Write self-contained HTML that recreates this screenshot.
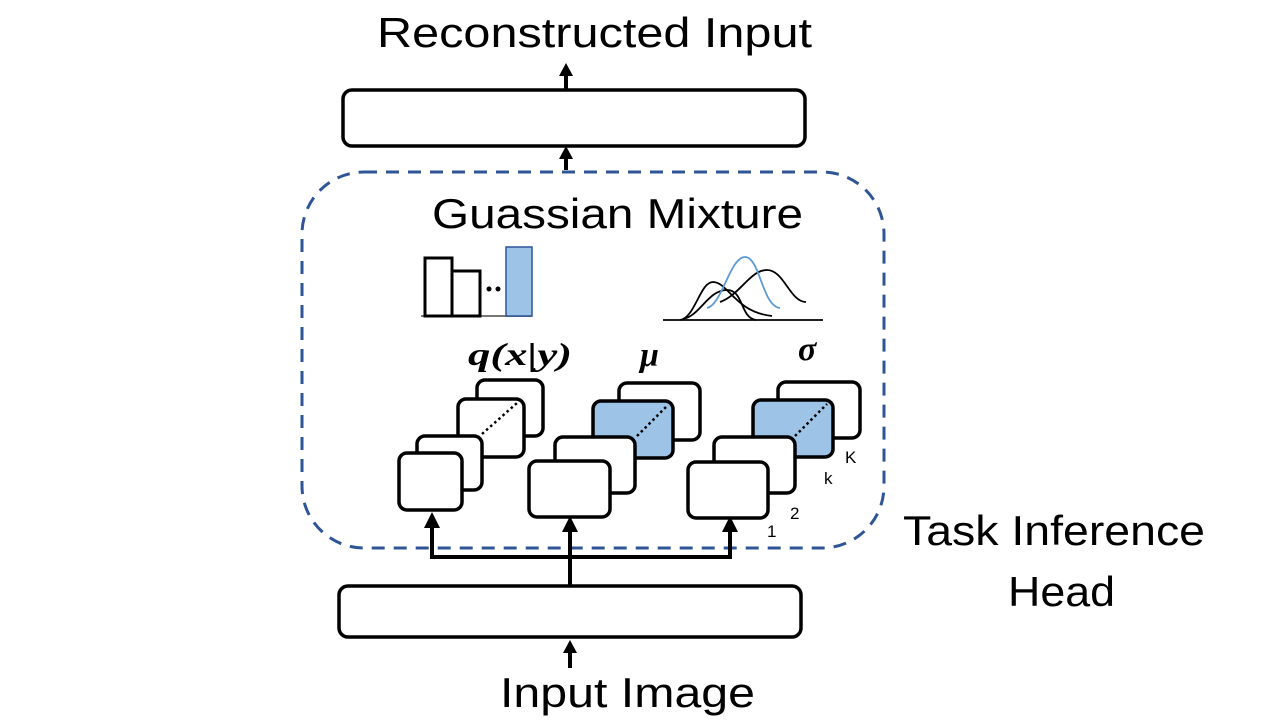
<!DOCTYPE html>
<html><head><meta charset="utf-8"><style>
html,body{margin:0;padding:0;background:#fff;}
svg{display:block;}
.t{font-family:"Liberation Sans",sans-serif;fill:#000;}
.m{font-family:"Liberation Serif",serif;font-weight:bold;font-style:italic;fill:#000;}
</style></head><body>
<svg width="1280" height="720" viewBox="0 0 1280 720" xmlns="http://www.w3.org/2000/svg">
<!-- Titles -->
<text class="t" x="377" y="47" font-size="42" textLength="435" lengthAdjust="spacingAndGlyphs">Reconstructed Input</text>
<text class="t" x="432" y="228" font-size="42" textLength="371" lengthAdjust="spacingAndGlyphs">Guassian Mixture</text>
<text class="t" x="903" y="545" font-size="42" textLength="302" lengthAdjust="spacingAndGlyphs">Task Inference</text>
<text class="t" x="1008" y="606" font-size="42" textLength="107" lengthAdjust="spacingAndGlyphs">Head</text>
<text class="t" x="500" y="707" font-size="42" textLength="255" lengthAdjust="spacingAndGlyphs">Input Image</text>

<!-- boxes -->
<rect x="343" y="90" width="462" height="56" rx="9" fill="#fff" stroke="#000" stroke-width="3.5"/>
<rect x="339" y="586" width="462" height="51" rx="9" fill="#fff" stroke="#000" stroke-width="3.5"/>

<!-- dashed region -->
<rect x="302" y="172" width="582" height="376" rx="62" fill="none" stroke="#2f5597" stroke-width="3" stroke-dasharray="13,9"/>

<!-- arrows -->
<g stroke="#000" stroke-width="4" fill="none">
<line x1="566" y1="90" x2="566" y2="68"/>
<line x1="566" y1="170" x2="566" y2="153"/>
<line x1="570" y1="668" x2="570" y2="646"/>
<polyline points="432,528 432,557 730,557 730,528"/>
<line x1="570" y1="586" x2="570" y2="528"/>
</g>
<g fill="#000">
<polygon points="566,63 559,76 573,76"/>
<polygon points="566,146 559,159 573,159"/>
<polygon points="570,640 563,653 577,653"/>
<polygon points="432,512 424,528 440,528"/>
<polygon points="570,516 562,532 578,532"/>
<polygon points="730,516 722,532 738,532"/>
</g>

<!-- histogram -->
<line x1="421" y1="316" x2="532" y2="316" stroke="#777" stroke-width="2"/>
<rect x="425" y="258" width="27" height="58" fill="#fff" stroke="#000" stroke-width="3"/>
<rect x="452" y="271" width="28" height="45" fill="#fff" stroke="#000" stroke-width="3"/>
<circle cx="489" cy="289" r="2.5" fill="#000"/><circle cx="498" cy="289" r="2.5" fill="#000"/>
<rect x="506" y="247" width="26" height="69" fill="#9dc3e6" stroke="#2f5597" stroke-width="1.5"/>

<!-- gaussians -->
<g fill="none" stroke-width="1.8">
<line x1="663" y1="320" x2="823" y2="320" stroke="#000"/>
<path d="M680,320 C695,318 700,282 713,282 C728,282 735,312 772,316" stroke="#000"/>
<path d="M683,319 C700,316 708,290 727,290 C744,290 740,318 756,320" stroke="#000"/>
<path d="M720,302 C740,295 750,270 767,270 C784,270 790,302 806,302" stroke="#000"/>
<path d="M707,308 C722,305 730,257 745,257 C760,257 762,306 780,308" stroke="#5b9bd5"/>
</g>

<!-- math labels -->
<text class="m" x="468" y="365" font-size="32" textLength="104" lengthAdjust="spacingAndGlyphs">q(x|y)</text>
<text class="m" x="640" y="366" font-size="34">μ</text>
<text class="m" x="798" y="360" font-size="34">σ</text>

<!-- group 1 -->
<g stroke="#000" stroke-width="3.5">
<rect x="477" y="380" width="66" height="56" rx="8" fill="#fff"/>
<rect x="458" y="399" width="66" height="58" rx="8" fill="#fff"/>
<line x1="482" y1="434" x2="517" y2="403" stroke-width="2.5" stroke-dasharray="2.5,3"/>
<rect x="417" y="436" width="65" height="54" rx="8" fill="#fff"/>
<rect x="399" y="453" width="63" height="57" rx="8" fill="#fff"/>
</g>
<!-- group 2 -->
<g stroke="#000" stroke-width="3.5">
<rect x="619" y="383" width="81" height="57" rx="8" fill="#fff"/>
<rect x="593" y="401" width="80" height="57" rx="8" fill="#9dc3e6"/>
<line x1="637" y1="436" x2="668" y2="405" stroke-width="2.5" stroke-dasharray="2.5,3"/>
<rect x="555" y="437" width="80" height="56" rx="8" fill="#fff"/>
<rect x="529" y="461" width="81" height="56" rx="8" fill="#fff"/>
</g>
<!-- group 3 -->
<g stroke="#000" stroke-width="3.5">
<rect x="778" y="382" width="82" height="56" rx="8" fill="#fff"/>
<rect x="753" y="400" width="80" height="57" rx="8" fill="#9dc3e6"/>
<line x1="795" y1="436" x2="827" y2="404" stroke-width="2.5" stroke-dasharray="2.5,3"/>
<rect x="714" y="437" width="81" height="56" rx="8" fill="#fff"/>
<rect x="688" y="462" width="80" height="56" rx="8" fill="#fff"/>
</g>
<text class="t" x="767" y="537" font-size="17">1</text>
<text class="t" x="790" y="519" font-size="17">2</text>
<text class="t" x="824" y="484" font-size="17">k</text>
<text class="t" x="845" y="463" font-size="17">K</text>
</svg>
</body></html>
